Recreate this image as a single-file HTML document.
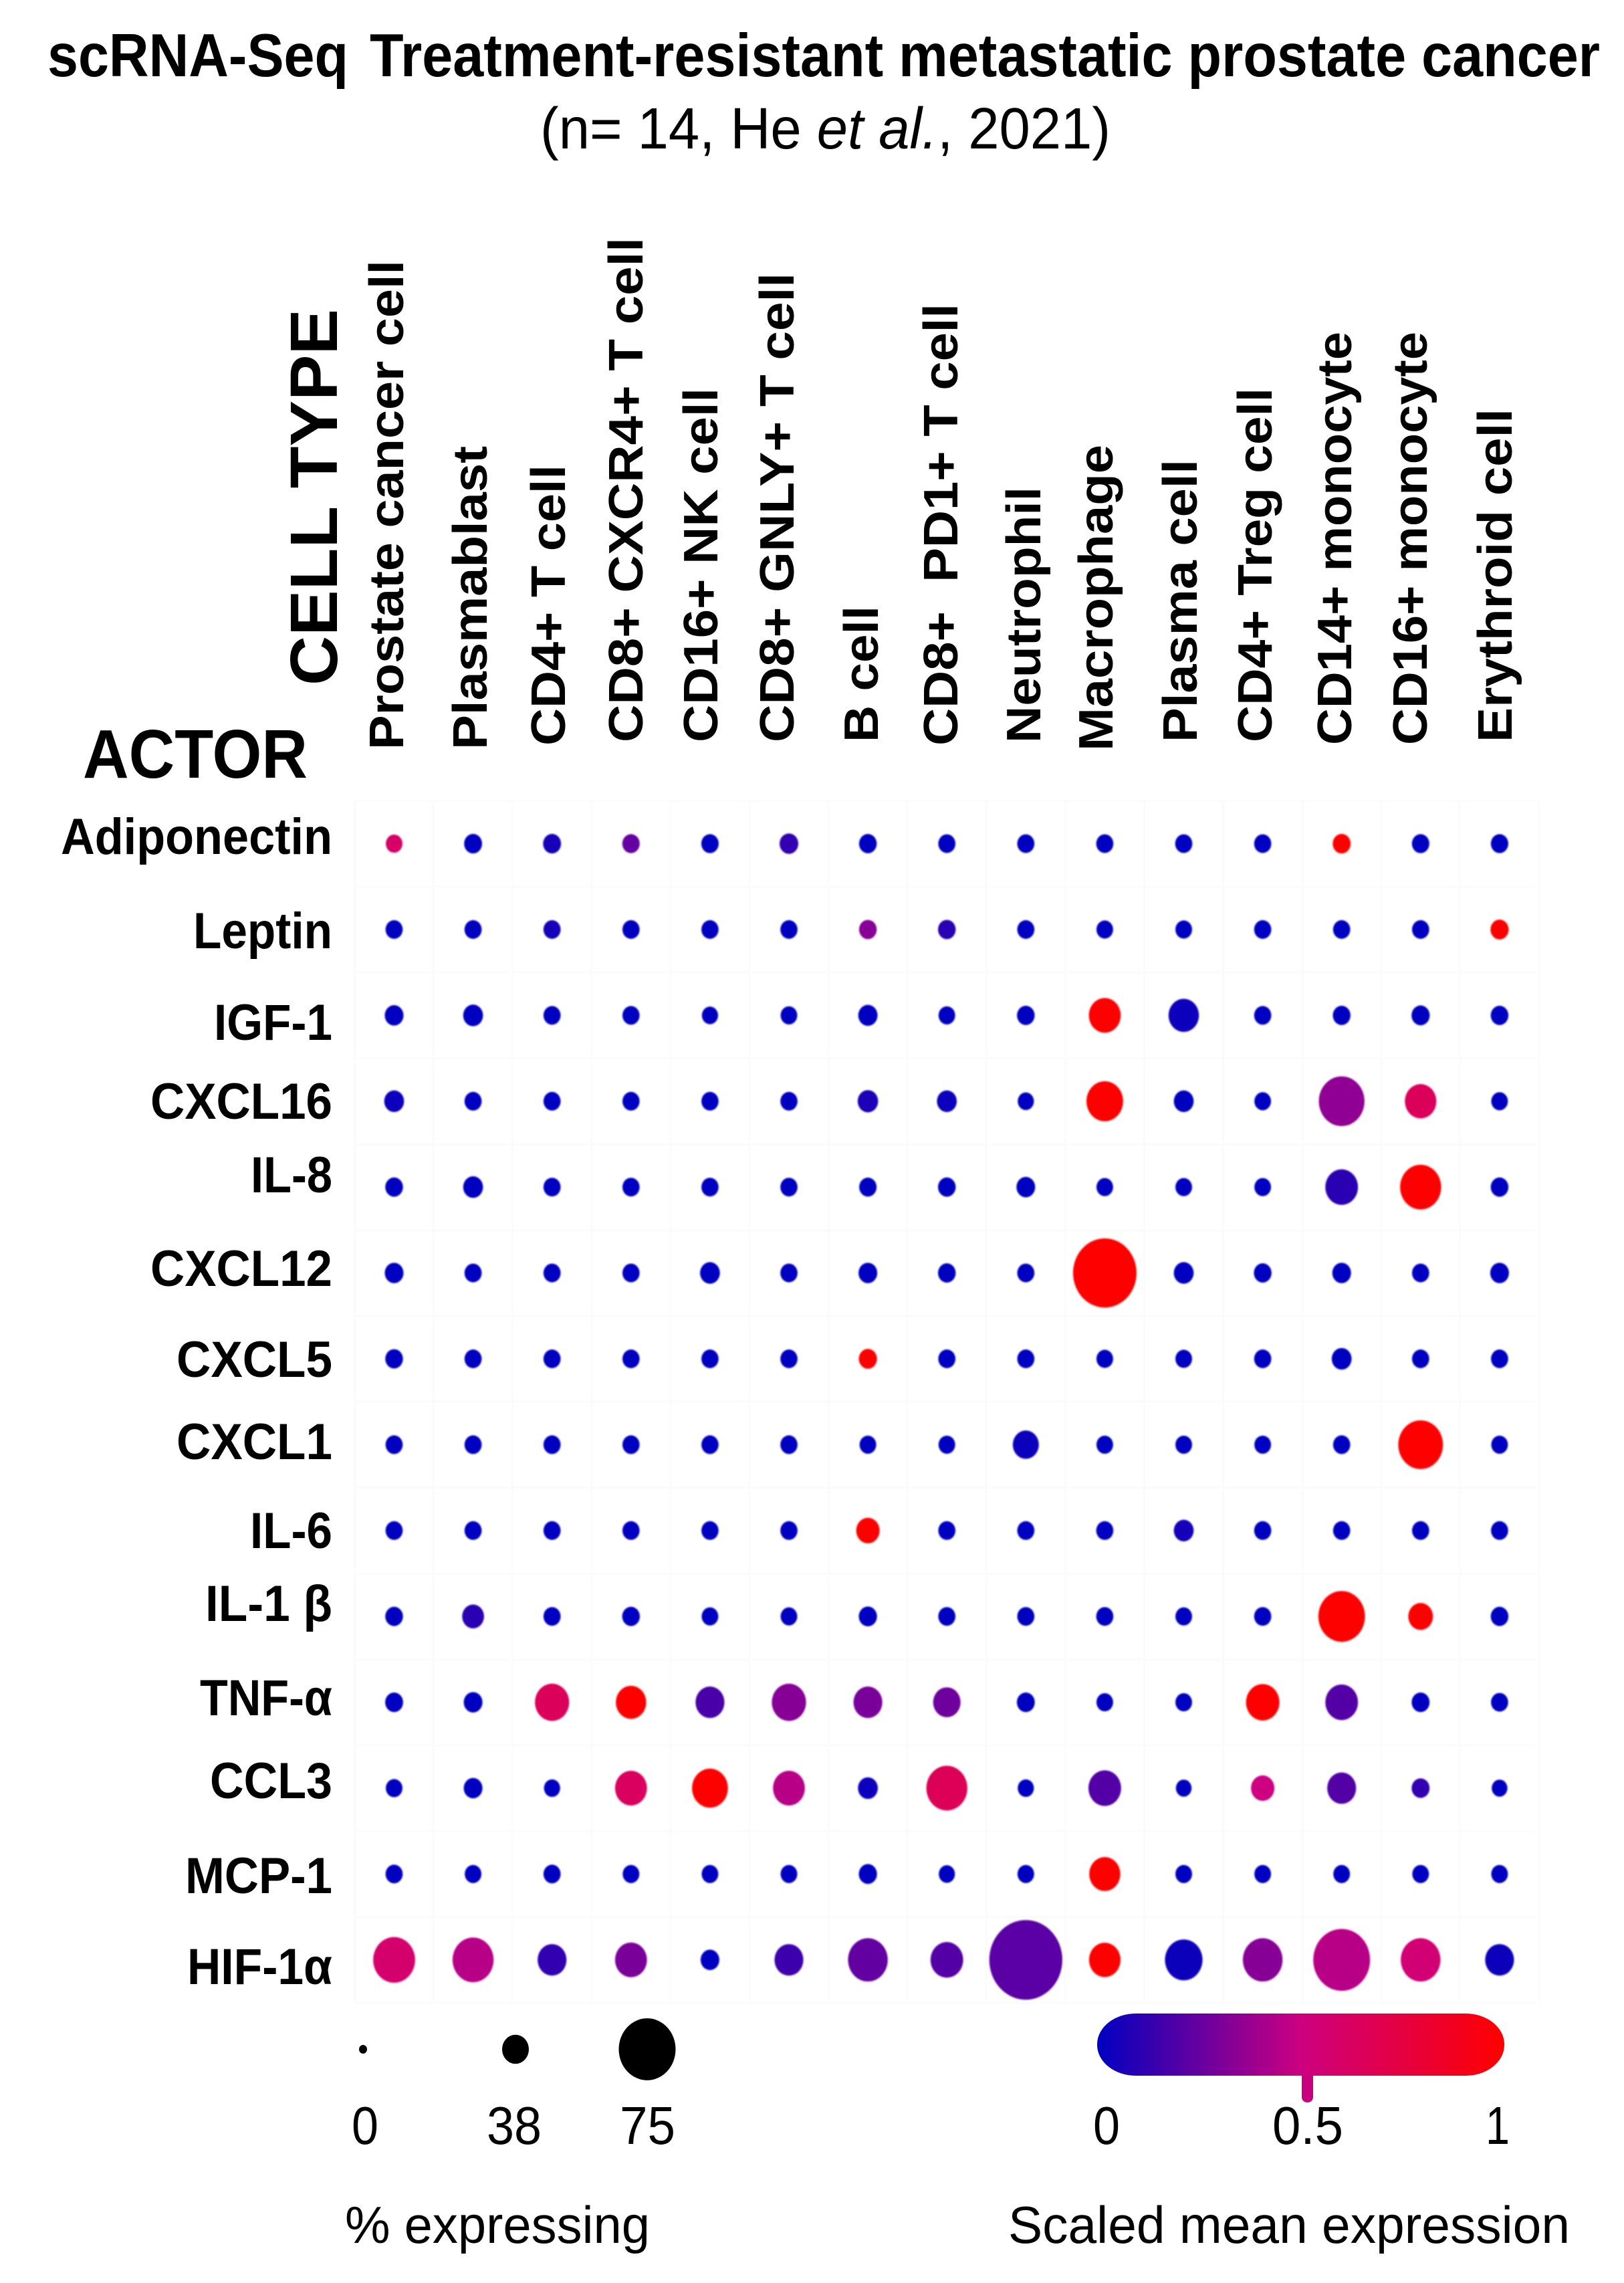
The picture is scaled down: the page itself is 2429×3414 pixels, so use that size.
<!DOCTYPE html>
<html lang="en">
<head>
<meta charset="utf-8">
<title>scRNA-Seq dot plot</title>
<style>
html,body{margin:0;padding:0;background:#fff;}
svg{display:block;}
text{font-family:"Liberation Sans","DejaVu Sans",sans-serif;fill:#000;}
.b{font-weight:700;}
</style>
</head>
<body>
<svg id="chart" xmlns="http://www.w3.org/2000/svg" width="2429" height="3414" viewBox="0 0 2429 3414">
<defs>
<linearGradient id="cbar" x1="0" x2="1" y1="0" y2="0">
<stop offset="0" stop-color="#0000c0"/><stop offset="0.5" stop-color="#cc0080"/><stop offset="1" stop-color="#ff0000"/>
</linearGradient>
<filter id="soft" x="-20%" y="-20%" width="140%" height="140%"><feGaussianBlur stdDeviation="1"/></filter>
</defs>
<rect width="2429" height="3414" fill="#fff"/>

<g>
<text class="b" x="71" y="114" font-size="91" textLength="450" lengthAdjust="spacingAndGlyphs">scRNA-Seq</text>
<text class="b" x="553" y="114" font-size="91" textLength="1840" lengthAdjust="spacingAndGlyphs">Treatment-resistant metastatic prostate cancer</text>
<text x="808" y="222" font-size="87" textLength="853" lengthAdjust="spacingAndGlyphs">(n= 14, He <tspan font-style="italic">et al.</tspan>, 2021)</text>
</g>

<g id="grid"></g>

<g>
<text class="b" transform="translate(504,1025) rotate(-90)" font-size="100" textLength="563" lengthAdjust="spacingAndGlyphs">CELL TYPE</text>
<text class="b" transform="translate(603,1121) rotate(-90)" font-size="72" textLength="732" lengthAdjust="spacingAndGlyphs">Prostate cancer cell</text>
<text class="b" transform="translate(728,1121) rotate(-90)" font-size="72" textLength="454" lengthAdjust="spacingAndGlyphs">Plasmablast</text>
<text class="b" transform="translate(845,1115) rotate(-90)" font-size="72" textLength="420" lengthAdjust="spacingAndGlyphs">CD4+ T cell</text>
<text class="b" transform="translate(961,1110) rotate(-90)" font-size="72" textLength="755" lengthAdjust="spacingAndGlyphs">CD8+ CXCR4+ T cell</text>
<text class="b" transform="translate(1073,1110) rotate(-90)" font-size="72" textLength="530" lengthAdjust="spacingAndGlyphs">CD16+ NK cell</text>
<text class="b" transform="translate(1187,1110) rotate(-90)" font-size="72" textLength="702" lengthAdjust="spacingAndGlyphs">CD8+ GNLY+ T cell</text>
<text class="b" transform="translate(1313,1110) rotate(-90)" font-size="72" textLength="204" lengthAdjust="spacingAndGlyphs">B cell</text>
<text class="b" transform="translate(1432,1115) rotate(-90)" font-size="72" textLength="661" lengthAdjust="spacingAndGlyphs" xml:space="preserve">CD8+  PD1+ T cell</text>
<text class="b" transform="translate(1556,1111) rotate(-90)" font-size="72" textLength="383" lengthAdjust="spacingAndGlyphs">Neutrophil</text>
<text class="b" transform="translate(1664,1123) rotate(-90)" font-size="72" textLength="458" lengthAdjust="spacingAndGlyphs">Macrophage</text>
<text class="b" transform="translate(1790,1110) rotate(-90)" font-size="72" textLength="423" lengthAdjust="spacingAndGlyphs">Plasma cell</text>
<text class="b" transform="translate(1902,1110) rotate(-90)" font-size="72" textLength="530" lengthAdjust="spacingAndGlyphs">CD4+ Treg cell</text>
<text class="b" transform="translate(2021,1114) rotate(-90)" font-size="72" textLength="618" lengthAdjust="spacingAndGlyphs">CD14+ monocyte</text>
<text class="b" transform="translate(2134,1114) rotate(-90)" font-size="72" textLength="618" lengthAdjust="spacingAndGlyphs">CD16+ monocyte</text>
<text class="b" transform="translate(2261,1110) rotate(-90)" font-size="72" textLength="499" lengthAdjust="spacingAndGlyphs">Erythroid cell</text>
</g>

<g>
<text class="b" x="124" y="1163" font-size="103" textLength="336" lengthAdjust="spacingAndGlyphs">ACTOR</text>
<text class="b" x="91" y="1277" font-size="76" textLength="406" lengthAdjust="spacingAndGlyphs">Adiponectin</text>
<text class="b" x="289" y="1418" font-size="76" textLength="208" lengthAdjust="spacingAndGlyphs">Leptin</text>
<text class="b" x="320" y="1555" font-size="76" textLength="177" lengthAdjust="spacingAndGlyphs">IGF-1</text>
<text class="b" x="225" y="1673" font-size="76" textLength="272" lengthAdjust="spacingAndGlyphs">CXCL16</text>
<text class="b" x="375" y="1783" font-size="76" textLength="122" lengthAdjust="spacingAndGlyphs">IL-8</text>
<text class="b" x="225" y="1923" font-size="76" textLength="272" lengthAdjust="spacingAndGlyphs">CXCL12</text>
<text class="b" x="264" y="2059" font-size="76" textLength="233" lengthAdjust="spacingAndGlyphs">CXCL5</text>
<text class="b" x="264" y="2182" font-size="76" textLength="233" lengthAdjust="spacingAndGlyphs">CXCL1</text>
<text class="b" x="374" y="2315" font-size="76" textLength="123" lengthAdjust="spacingAndGlyphs">IL-6</text>
<text class="b" x="307" y="2424" font-size="76" textLength="190" lengthAdjust="spacingAndGlyphs">IL-1 β</text>
<text class="b" x="299" y="2565" font-size="76" textLength="198" lengthAdjust="spacingAndGlyphs">TNF-α</text>
<text class="b" x="314" y="2689" font-size="76" textLength="183" lengthAdjust="spacingAndGlyphs">CCL3</text>
<text class="b" x="277" y="2831" font-size="76" textLength="220" lengthAdjust="spacingAndGlyphs">MCP-1</text>
<text class="b" x="280" y="2967" font-size="76" textLength="217" lengthAdjust="spacingAndGlyphs">HIF-1α</text>
</g>

<g id="dots" filter="url(#soft)"></g>

<g id="size-legend">
<text x="526" y="3206" font-size="80" textLength="40" lengthAdjust="spacingAndGlyphs">0</text>
<text x="728" y="3206" font-size="80" textLength="82" lengthAdjust="spacingAndGlyphs">38</text>
<text x="927" y="3206" font-size="80" textLength="83" lengthAdjust="spacingAndGlyphs">75</text>
<text x="516" y="3354" font-size="78" textLength="456" lengthAdjust="spacingAndGlyphs">% expressing</text>
</g>

<g>
<rect x="1947" y="3090" width="17" height="54" rx="8" fill="#c8007f"/>
<rect x="1641" y="3011" width="609" height="93" rx="58" ry="46" fill="url(#cbar)"/>
<text x="1635" y="3206" font-size="80" textLength="40" lengthAdjust="spacingAndGlyphs">0</text>
<text x="1903" y="3206" font-size="80" textLength="106" lengthAdjust="spacingAndGlyphs">0.5</text>
<text x="2222" y="3206" font-size="80" textLength="36" lengthAdjust="spacingAndGlyphs">1</text>
<text x="1508" y="3354" font-size="78" textLength="840" lengthAdjust="spacingAndGlyphs">Scaled mean expression</text>
</g>
</svg>

<script>
const cellTypes = ["Prostate cancer cell","Plasmablast","CD4+ T cell","CD8+ CXCR4+ T cell","CD16+ NK cell","CD8+ GNLY+ T cell","B cell","CD8+ PD1+ T cell","Neutrophil","Macrophage","Plasma cell","CD4+ Treg cell","CD14+ monocyte","CD16+ monocyte","Erythroid cell"];
const actors = ["Adiponectin","Leptin","IGF-1","CXCL16","IL-8","CXCL12","CXCL5","CXCL1","IL-6","IL-1 beta","TNF-alpha","CCL3","MCP-1","HIF-1alpha"];

/* % of cells expressing, one row per actor */
const pctAdiponectin = [24,26.5,26.5,25.5,25.5,28,26,25,25,25,25,25,26.5,25.5,25.5];
const pctLeptin      = [25,25,25,25,25,25,26,26,25,24,24,25,25,25,27];
const pctIGF1        = [28,30,25,25,23,24,29,24,26,48,46,25,26,27,26];
const pctCXCL16      = [30,25,25,25,25,25,31,30,23,54,30,24,64,47.5,24];
const pctIL8         = [26,30,25,25,25,25,25.5,26,28,24,24,24,49,59,26];
const pctCXCL12      = [28,25,25,25,30,25,28,26,25,81,30,26,28,25,28];
const pctCXCL5       = [26,25,25,25,25,25,27,25,25,24,24,25,30,25,25];
const pctCXCL1       = [25,25,25,25,25,25,24,24,40,24,24,24,25,63,24];
const pctIL6         = [25,25,25,25,25,25,36,25,25,25,30,25,25,25,25];
const pctIL1b        = [26,33.5,25,26,24,24,27,25,25,25,24,25,65,38,26];
const pctTNFa        = [26.5,28,51,46,44,51,44,42,26.5,24,24,50,49,26.5,25];
const pctCCL3        = [24,28,23,48,53,48,30,59,23,49,22,36,44,26.5,22];
const pctMCP1        = [25,24,25,24,24,24,27,23,24,47,24,24,24,24,24];
const pctHIF1a       = [60,59,44,48,28,44,57.5,49,89,47.5,55,57.5,75,57.5,44];

/* scaled mean expression, one row per actor */
const valAdiponectin = [.6,0,.06,.25,0,.12,0,0,0,0,0,0,1,0,0];
const valLeptin      = [0,0,.06,0,0,0,.33,.1,0,0,0,0,0,0,1];
const valIGF1        = [0,0,0,0,0,0,0,0,0,1,.03,0,0,0,0];
const valCXCL16      = [.02,0,0,0,0,0,.07,.02,0,1,.01,0,.35,.65,0];
const valIL8         = [0,0,0,0,0,0,0,0,0,0,0,0,.1,1,0];
const valCXCL12      = [0,0,0,0,0,0,0,0,0,1,0,0,0,0,0];
const valCXCL5       = [0,0,0,0,0,0,1,0,0,0,0,0,0,0,0];
const valCXCL1       = [0,0,0,0,0,0,0,0,.03,0,0,0,0,1,0];
const valIL6         = [0,0,0,0,0,0,1,0,0,0,.05,0,0,0,0];
const valIL1b        = [0,.1,0,0,0,0,0,0,0,0,0,0,.98,1,0];
const valTNFa        = [0,0,.65,1,.18,.33,.3,.27,0,0,0,1,.2,0,0];
const valCCL3        = [0,0,0,.63,1,.45,.02,.66,0,.2,0,.5,.2,.12,0];
const valMCP1        = [0,0,0,0,0,0,0,0,0,1,0,0,0,0,0];
const valHIF1a       = [.58,.45,.12,.3,0,.15,.24,.2,.22,1,.04,.33,.45,.55,.04];

const pctMatrix = [pctAdiponectin,pctLeptin,pctIGF1,pctCXCL16,pctIL8,pctCXCL12,pctCXCL5,pctCXCL1,pctIL6,pctIL1b,pctTNFa,pctCCL3,pctMCP1,pctHIF1a];
const valMatrix = [valAdiponectin,valLeptin,valIGF1,valCXCL16,valIL8,valCXCL12,valCXCL5,valCXCL1,valIL6,valIL1b,valTNFa,valCCL3,valMCP1,valHIF1a];
const sizeLegendValues = [0,38,75];

const NS = "http://www.w3.org/2000/svg";
function xScale(i){ return 589.5 + 118.1 * i; }
function yScale(j){ return 1261.6 + 128.4 * j; }
function diameter(p){ return 12 + 0.334 * p + 0.008526 * p * p; }
function colorScale(v){
  const a = [0,0,192], b = [204,0,128], c = [255,0,0];
  const t = Math.max(0, Math.min(1, v));
  const from = t < .5 ? a : b, to = t < .5 ? b : c, f = t < .5 ? t * 2 : (t - .5) * 2;
  const m = from.map((x, k) => Math.round(x + (to[k] - x) * f));
  return "rgb(" + m.join(",") + ")";
}
function slug(s){ return s.toLowerCase().replace(/[^a-z0-9]+/g, "-").replace(/^-|-$/g, ""); }

const grid = document.getElementById("grid");
function gridLine(x1, y1, x2, y2){
  const l = document.createElementNS(NS, "line");
  l.setAttribute("x1", x1);
  l.setAttribute("y1", y1);
  l.setAttribute("x2", x2);
  l.setAttribute("y2", y2);
  l.setAttribute("stroke", "#fbfbfb");
  l.setAttribute("stroke-width", "3");
  
  
  grid.appendChild(l);
}
const gridTop = yScale(0) - 64, gridBottom = yScale(actors.length - 1) + 62;
const gridLeft = xScale(0) - 59, gridRight = xScale(cellTypes.length - 1) + 55;
for (let i = 0; i <= cellTypes.length; i++) { const x = xScale(i) - 59; gridLine(x, gridTop, x, gridBottom); }
for (let j = 0; j <= actors.length; j++) { const y = yScale(j) - 64; gridLine(gridLeft, y, gridRight, y); }

const dots = document.getElementById("dots");
actors.forEach((actor, j) => {
  cellTypes.forEach((cell, i) => {
    const d = diameter(pctMatrix[j][i]);
    const e = document.createElementNS(NS, "ellipse");
    e.setAttribute("cx", xScale(i));
    e.setAttribute("cy", yScale(j));
    e.setAttribute("rx", d / 2);
    e.setAttribute("ry", d / 2 * 1.09);
    e.setAttribute("fill", colorScale(valMatrix[j][i]));
    
    
    dots.appendChild(e);
  });
});

const sizeLegend = document.getElementById("size-legend");
function legendX(p){ return 543 + 6.315 * p - 0.00829 * p * p; }
sizeLegendValues.forEach((p) => {
  const d = diameter(p) + (p === 38 ? 3 : 0);
  const e = document.createElementNS(NS, "ellipse");
  e.setAttribute("cx", legendX(p) - (p === 75 ? 2 : 0));
  e.setAttribute("cy", 3064.5);
  e.setAttribute("rx", d / 2);
  e.setAttribute("ry", d / 2 * 1.09);
  e.setAttribute("fill", "#000");
  
  
  sizeLegend.appendChild(e);
});
</script>
</body>
</html>
